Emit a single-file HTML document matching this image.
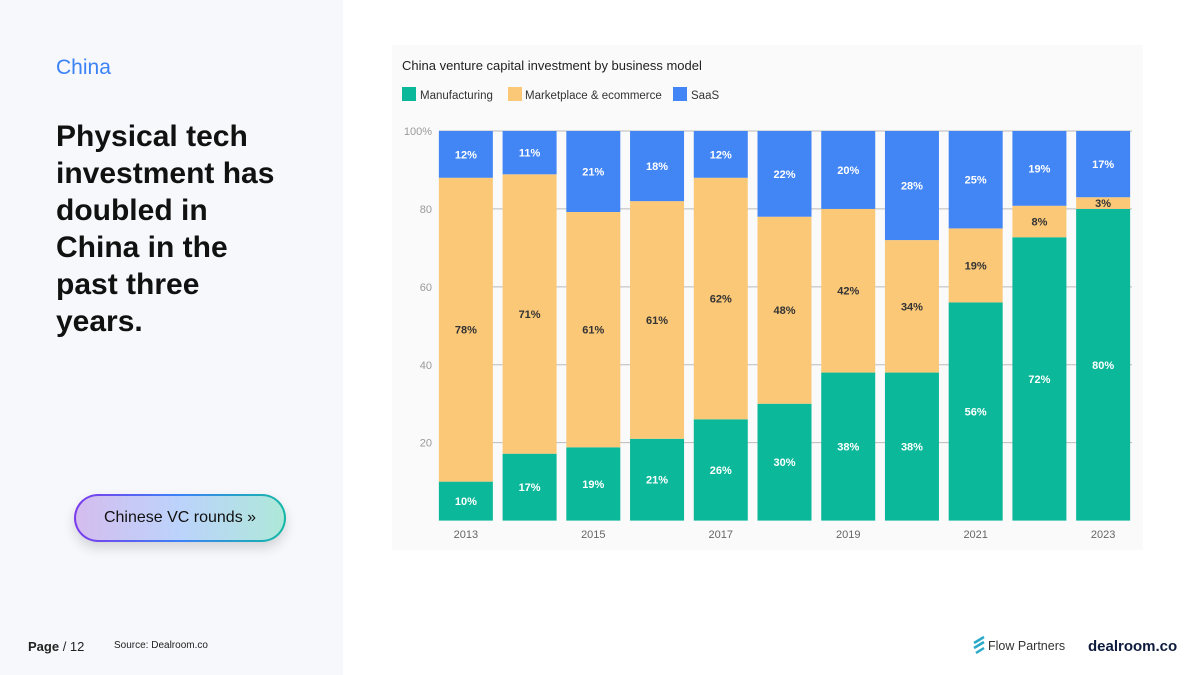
<!DOCTYPE html>
<html><head><meta charset="utf-8"><style>
body{margin:0;width:1200px;height:675px;position:relative;background:#fff;font-family:"Liberation Sans",sans-serif;overflow:hidden}
.left{position:absolute;left:0;top:0;width:343px;height:675px;background:#f7f8fc}
.tag{position:absolute;left:56px;top:56px;font-size:21px;color:#3b82f6}
.head{position:absolute;left:56px;top:118px;font-size:30px;font-weight:bold;line-height:37px;color:#111;width:232px}
.btn{position:absolute;left:74px;top:494px;width:208px;height:44px;border-radius:24px;border:2px solid transparent;background:linear-gradient(90deg,#d4bdee,#bcd3fb,#aee8d9) padding-box,linear-gradient(90deg,#7c3aed,#3b82f6,#14b8a6) border-box;box-shadow:0 6px 12px rgba(0,0,0,.15);font-size:16px;color:#111;display:flex;align-items:center;justify-content:center}
.page{position:absolute;left:28px;top:639px;font-size:13px;color:#222}
.src{position:absolute;left:114px;top:640px;font-size:10px;color:#222}
.panel{position:absolute;left:392px;top:45px;width:751px;height:505px;background:#fafafa}
</style></head><body>
<div class="left"></div>
<div class="tag">China</div>
<div class="head">Physical tech investment has doubled in China in the past three years.</div>
<div class="btn">Chinese VC rounds »</div>
<div class="page"><b>Page</b> / 12</div>
<div class="src">Source: Dealroom.co</div>
<div class="panel"></div>
<svg width="1200" height="675" style="position:absolute;left:0;top:0">
<text x="402" y="70" font-size="13" fill="#222">China venture capital investment by business model</text>
<g id="legend">
<rect x="402" y="87" width="14" height="14" fill="#0bb89a"/><text x="420" y="99" font-size="11.5" fill="#333">Manufacturing</text>
<rect x="508" y="87" width="14" height="14" fill="#fbc878"/><text x="525" y="99" font-size="11.5" fill="#333">Marketplace &amp; ecommerce</text>
<rect x="673" y="87" width="14" height="14" fill="#4285f4"/><text x="691" y="99" font-size="11.5" fill="#333">SaaS</text>
</g>
<g id="plot"></g>
<g>
<path d="M974 643 l10 -6 M974 648 l10 -6 M976 653 l8 -5" stroke="#2aa9c9" stroke-width="2.5"/>
<text x="988" y="650" font-size="12.5" fill="#333">Flow Partners</text></g>
<text x="1088" y="651" font-size="15" font-weight="bold" fill="#0d1b3e">dealroom.co</text>
</svg>
<script>
const years=["2013","2014","2015","2016","2017","2018","2019","2020","2021","2022","2023"];
const manufacturing=[10,17,19,21,26,30,38,38,56,72,80];
const marketplace=[78,71,61,61,62,48,42,34,19,8,3];
const saas=[12,11,21,18,12,22,20,28,25,19,17];
const yTicks=[20,40,60,80,100];
const NS="http://www.w3.org/2000/svg";
const g=document.getElementById('plot');
const x0=434,x1=1135,yb=520.6,yt=131;
const y=v=>yb-(yb-yt)*v/100;
const step=(x1-x0)/years.length,bw=54;
function el(t,a){const e=document.createElementNS(NS,t);for(const k in a)e.setAttribute(k,a[k]);g.appendChild(e);return e;}
yTicks.forEach(t=>{
 const l=el('line',{x1:439,x2:1132,y1:y(t),y2:y(t),stroke:'#bbb','stroke-width':1});
 
 
 const tx=el('text',{x:432,y:y(t)+4,'font-size':11,fill:'#999','text-anchor':'end'});
 tx.textContent=t===100?'100%':t;
 
 
});
const series=[[manufacturing,'#0bb89a','manufacturing'],[marketplace,'#fbc878','marketplace'],[saas,'#4285f4','saas']];
years.forEach((yr,i)=>{
 const bx=x0+i*step+(step-bw)/2;
 const tot=manufacturing[i]+marketplace[i]+saas[i];
 let c=0;
 series.forEach(([arr,col,nm])=>{
  const v=arr[i]*100/tot;
  const r=el('rect',{x:bx,y:y(c+v),width:bw,height:y(c)-y(c+v),fill:col});
  
  
  const t=el('text',{x:bx+bw/2,y:(y(c)+y(c+v))/2+4,'font-size':11,'font-weight':'bold','text-anchor':'middle',fill:nm==='marketplace'?'#333':'#fff'});
  t.textContent=arr[i]+'%';
  
  
  c+=v;
 });
 if(i%2===0){
  const t=el('text',{x:bx+bw/2,y:538,'font-size':11,fill:'#666','text-anchor':'middle'});
  t.textContent=yr;
  
  
 }
});
</script>
</body></html>
